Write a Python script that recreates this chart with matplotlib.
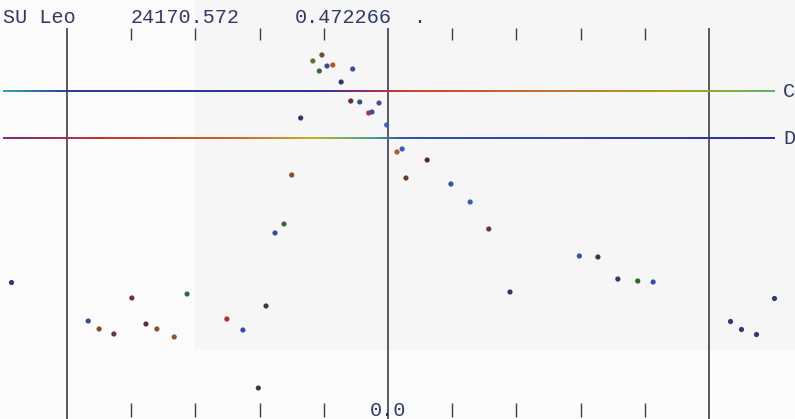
import numpy as np
import matplotlib
matplotlib.use("Agg")
import matplotlib.pyplot as plt
from matplotlib.collections import LineCollection
from matplotlib.colors import LinearSegmentedColormap
from matplotlib.patches import Rectangle

# star header
star_name = "SU Leo"
epoch = "24170.572"
period = "0.472266"

# phase / magnitude of each observation, folded on the period
phase = [-0.467, -0.450, -0.427, -0.399, -0.377, -0.360, -0.333, -0.313,
         -0.251, -0.226, -0.202, -0.190, -0.176, -0.162, -0.150, -0.136,
         -0.117, -0.107, -0.103, -0.095, -0.086, -0.073, -0.058, -0.055,
         -0.044, -0.030, -0.025, -0.014, -0.002, 0.014, 0.022, 0.028,
         0.061, 0.098, 0.128, 0.157, 0.190, 0.298, 0.327, 0.358, 0.389, 0.413]
mag = [15.405, 15.445, 15.470, 15.290, 15.420, 15.445, 15.485, 15.270,
       15.395, 15.450, 15.740, 15.330, 14.965, 14.920, 14.675, 14.390,
       14.105, 14.155, 14.075, 14.130, 14.125, 14.210, 14.305, 14.145,
       14.310, 14.365, 14.360, 14.315, 14.425, 14.560, 14.545, 14.690,
       14.600, 14.720, 14.810, 14.945, 15.260, 15.080, 15.085, 15.195,
       15.205, 15.210]

# comparison stars
comp_names = ["C", "D"]
comp_mags = [14.255, 14.490]

minor_ticks = [-0.4, -0.3, -0.2, -0.1, 0.1, 0.2, 0.3, 0.4]
frame_lines = [-0.5, 0.0, 0.5]
zero_label = "0.0"

# ink of each dot on the print
dot_colors = ["#3a4aa0", "#8a4a20", "#6a3a30", "#7a3030", "#5a3040", "#8a5020",
              "#8a5a30", "#2a6a50", "#b03030", "#3050b0", "#2a4a2a", "#3a3a3a",
              "#3050a0", "#3a6a3a", "#8a4a2a", "#2a3a6a", "#6a6a30", "#3a6a3a",
              "#5a5a2a", "#305090", "#c05020", "#2a3a70", "#6a3030", "#3050b0",
              "#2a5a7a", "#c03030", "#3050a0", "#4a4aa0", "#3060c0", "#b05a20",
              "#3060c0", "#6a4020", "#5a2a2a", "#3050a0", "#3060b0", "#7a3030",
              "#2a3a6a", "#3050b0", "#3a3a3a", "#2a3a70", "#2a6a2a", "#3050b0"]

W, H = 795, 419
fig = plt.figure(figsize=(W / 100, H / 100), dpi=100)
fig.patch.set_facecolor("#fcfcfc")
ax = fig.add_axes([0, 0, 1, 1])
ax.set_facecolor("#fcfcfc")
ax.set_xlim(-388 / 642, 407 / 642)
ax.set_ylim(15.895, 13.8)
ax.axis("off")

# slightly darker paper on the right
ax.add_patch(Rectangle((195 / W, 1 - 350 / H), 1, 350 / H, transform=ax.transAxes,
                       color="#f6f6f6", zorder=0, lw=0))

xt = ax.get_xaxis_transform()
yt = ax.get_yaxis_transform()
ink = "#3d3d4d"
txt_color = "#2e3a66"
ax.vlines(frame_lines, 0, 1 - 28 / H, transform=xt, color=ink, lw=1.2)
ax.vlines(minor_ticks, 1 - 40 / H, 1 - 28 / H, transform=xt, color=ink, lw=1.0)
ax.vlines(minor_ticks, 1 - 417 / H, 1 - 403 / H, transform=xt, color=ink, lw=1.0)

# comparison star levels, drawn with the colour drift of the print
stops = [
    [(0.0, "#2aa0b0"), (0.08, "#2a3a9a"), (0.40, "#2a2aa0"), (0.47, "#8a2a6a"),
     (0.52, "#d03a2a"), (0.70, "#c0702a"), (0.88, "#a0a020"), (1.0, "#60b060")],
    [(0.0, "#7a2a7a"), (0.12, "#c0302a"), (0.30, "#d06020"), (0.40, "#c0b020"),
     (0.48, "#40a090"), (0.52, "#3050a0"), (1.0, "#2a2aa0")],
]
x0, x1 = -385 / 642, 387 / 642
xs = np.linspace(x0, x1, 300)
for m, st, name in zip(comp_mags, stops, comp_names):
    cmap = LinearSegmentedColormap.from_list(name, st)
    pts = np.column_stack([xs, np.full_like(xs, m)])
    segs = np.stack([pts[:-1], pts[1:]], axis=1)
    lc = LineCollection(segs, colors=cmap(np.linspace(0, 1, len(segs))), lw=1.4)
    ax.add_collection(lc)
    ax.text(783 / W, m, name, transform=yt, ha="left", va="center",
            family="Liberation Mono", fontsize=14.5, color=txt_color)

# folded light curve, repeated one cycle either side
ph = np.array(phase)
mg = np.array(mag)
ax.scatter(ph, mg, s=14, c=dot_colors, lw=0, zorder=3)
for shift in (-1, 1):
    p2 = ph + shift
    keep = np.abs(p2) <= 0.61
    ax.scatter(p2[keep], mg[keep], s=14, c="#2d3a78", lw=0, zorder=3)

hdr = dict(transform=ax.transAxes, va="baseline", ha="left",
           family="Liberation Mono", fontsize=14.5, color=txt_color)
ax.text(3 / W, 1 - 23 / H, star_name, **hdr)
ax.text(131 / W, 1 - 23 / H, epoch, **hdr)
ax.text(295 / W, 1 - 23 / H, period, **hdr)
ax.text(413 / W, 1 - 23 / H, ".", **hdr)

ax.text(0.0, 1 - 401 / H, zero_label, transform=xt, ha="center", va="top",
        family="Liberation Mono", fontsize=14.5, color=txt_color)

fig.savefig("out.png", dpi=100, facecolor=fig.get_facecolor())
